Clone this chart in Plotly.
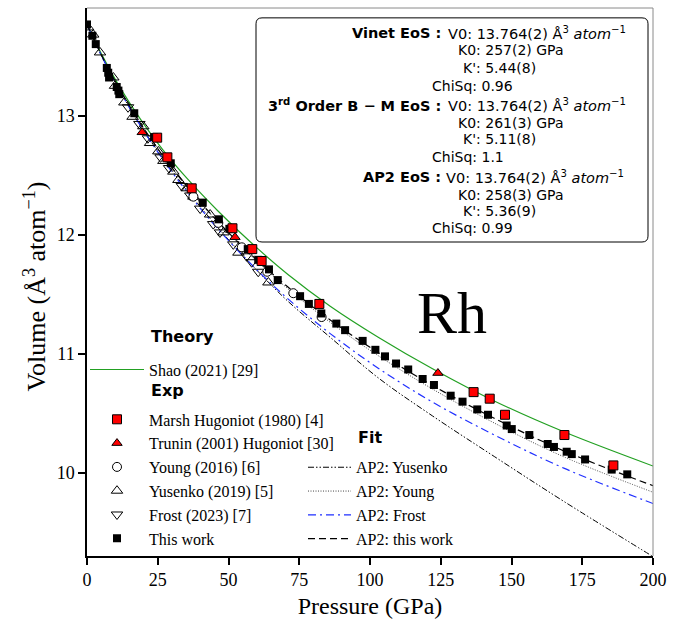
import plotly.graph_objects as go

# ---------------- data ----------------
fit_P = [0, 5.5, 11.74, 18.81, 26.82, 35.91, 46.19, 57.85, 71.01, 85.94, 102.9, 122.1, 143.9, 168.7, 200]
shao_V = [13.764, 13.499, 13.233, 12.973, 12.713, 12.458, 12.202, 11.937, 11.667, 11.401, 11.141, 10.876, 10.606, 10.345, 10.06]
ap2_this_V = [13.764, 13.489, 13.213, 12.938, 12.663, 12.388, 12.112, 11.837, 11.562, 11.286, 11.011, 10.736, 10.461, 10.185, 9.895]
ap2_young_V = [13.764, 13.489, 13.213, 12.938, 12.663, 12.388, 12.107, 11.827, 11.547, 11.266, 10.986, 10.706, 10.421, 10.135, 9.84]
ap2_frost_V = [13.764, 13.484, 13.203, 12.918, 12.633, 12.343, 12.052, 11.757, 11.462, 11.171, 10.881, 10.596, 10.321, 10.04, 9.745]
ap2_yusenko_V = [13.764, 13.484, 13.203, 12.918, 12.643, 12.358, 12.062, 11.757, 11.442, 11.14, 10.80, 10.48, 10.14, 9.76, 9.30]

this_P = [0, 1.9, 3.1, 7.0, 7.5, 7.8, 10.5, 11.1, 11.4, 16.7, 23.7, 29.6, 40.9, 46.6, 50.3, 56.8, 60.5,
          64.3, 67.4, 75.3, 78.4, 82.8, 88.1, 91.2, 97.4, 101.9, 105.3, 109.2, 113.5, 118.6, 122.6, 128.5,
          132.7, 137.9, 141.7, 148.3, 150.1, 156.3, 162.8, 165.0, 169.5, 171.3, 176.0, 185.4, 190.9]
this_V = [13.765, 13.67, 13.60, 13.40, 13.36, 13.32, 13.24, 13.21, 13.18, 13.02, 12.82, 12.60, 12.27, 12.13,
          12.05, 11.88, 11.79, 11.71, 11.62, 11.485, 11.42, 11.34, 11.255, 11.20, 11.11, 11.035, 10.98, 10.92,
          10.87, 10.79, 10.74, 10.65, 10.60, 10.535, 10.49, 10.40, 10.37, 10.32, 10.245, 10.22, 10.18, 10.16,
          10.115, 10.03, 9.99]

marsh_P = [24.8, 28.4, 37.0, 51.4, 58.4, 61.7, 82.1, 136.6, 142.3, 147.7, 168.7, 186.0]
marsh_V = [12.815, 12.65, 12.39, 12.055, 11.88, 11.78, 11.42, 10.68, 10.625, 10.49, 10.32, 10.065]

trunin_P = [19.5, 52.3, 124.0]
trunin_V = [12.86, 11.98, 10.84]

young_P = [37.6, 46.4, 54.7, 63.7, 72.9, 82.9]
young_V = [12.32, 12.10, 11.895, 11.69, 11.51, 11.31]

yusenko_P = [0.4, 2.2, 4.6, 9.3, 9.9, 13.2, 16.1, 19.9, 22.3, 25.2, 27.0, 30.5, 32.3, 35.2, 37.6, 43.5, 48.2, 53.5, 64.1]
yusenko_V = [13.74, 13.68, 13.53, 13.32, 13.25, 13.11, 12.99, 12.91, 12.77, 12.70, 12.62, 12.53, 12.46, 12.39,
             12.32, 12.17, 12.02, 11.85, 11.60]

frost_P = [14.5, 18.5, 21.5, 26.0, 29.0, 33.5, 36.5, 40.0, 44.6, 47.0, 51.7, 56.4, 58.2, 60.5]
frost_V = [13.07, 12.93, 12.81, 12.65, 12.56, 12.41, 12.33, 12.22, 12.09, 12.02, 11.92, 11.82, 11.77, 11.69]

x_ticks = [0, 25, 50, 75, 100, 125, 150, 175, 200]
y_ticks = [10, 11, 12, 13]

box_lines = [
    ("<b>Vinet EoS :</b>", "V0: 13.764(2) Å<sup>3</sup> <i>atom</i><sup>−1</sup>", "K0: 257(2) GPa", "K': 5.44(8)", "ChiSq: 0.96"),
    ("<b>3<sup>rd</sup> Order B − M EoS :</b>", "V0: 13.764(2) Å<sup>3</sup> <i>atom</i><sup>−1</sup>", "K0: 261(3) GPa", "K': 5.11(8)", "ChiSq: 1.1"),
    ("<b>AP2 EoS :</b>", "V0: 13.764(2) Å<sup>3</sup> <i>atom</i><sup>−1</sup>", "K0: 258(3) GPa", "K': 5.36(9)", "ChiSq: 0.99"),
]

# ---------------- layout geometry (pixels) ----------------
W, H = 691, 623
L, R, T, B = 87, 653, 8, 563


def px(x):
    return (x - L) / (R - L)


def py(y):
    return (B - y) / (B - T)


SERIF = "Liberation Serif, Times New Roman, serif"
SANS = "DejaVu Sans, sans-serif"

fig = go.Figure()

# Theory
fig.add_trace(go.Scatter(x=fit_P, y=shao_V, mode="lines", name="Shao (2021) [29]",
                         line=dict(color="#22a022", width=1.2, shape="spline"),
                         legend="legend", legendgroup="theory", legendrank=1))

# Fits
fit_styles = [
    ("AP2: Yusenko", ap2_yusenko_V, dict(color="black", width=1, dash="6px,2px,1.5px,2px,1.5px,2px")),
    ("AP2: Young", ap2_young_V, dict(color="#444444", width=1, dash="1px,1.5px")),
    ("AP2: Frost", ap2_frost_V, dict(color="#1f2fff", width=1.2, dash="8px,4px,2px,4px")),
    ("AP2: this work", ap2_this_V, dict(color="black", width=1.2, dash="7px,4px")),
]
for i, (nm, vv, ln) in enumerate(fit_styles):
    ln = dict(ln, shape="spline")
    fig.add_trace(go.Scatter(x=fit_P, y=vv, mode="lines", name=nm, line=ln,
                             legend="legend2", legendrank=10 + i))

# Experimental data
fig.add_trace(go.Scatter(x=yusenko_P, y=yusenko_V, mode="markers", name="Yusenko (2019) [5]",
                         marker=dict(symbol="triangle-up-open", size=10, color="black", line=dict(width=1)),
                         legendgroup="exp", legendrank=5))
fig.add_trace(go.Scatter(x=frost_P, y=frost_V, mode="markers", name="Frost (2023) [7]",
                         marker=dict(symbol="triangle-down-open", size=10, color="black", line=dict(width=1)),
                         legendgroup="exp", legendrank=6))
fig.add_trace(go.Scatter(x=young_P, y=young_V, mode="markers", name="Young (2016) [6]",
                         marker=dict(symbol="circle", size=9, color="white", line=dict(width=1, color="black")),
                         legendgroup="exp", legendrank=4))
fig.add_trace(go.Scatter(x=this_P, y=this_V, mode="markers", name="This work",
                         marker=dict(symbol="square", size=8, color="black"),
                         error_y=dict(type="constant", value=0.012, color="black", thickness=1, width=2),
                         error_x=dict(type="constant", value=0.6, color="black", thickness=1, width=2),
                         legendgroup="exp", legendrank=7))
fig.add_trace(go.Scatter(x=marsh_P, y=marsh_V, mode="markers", name="Marsh Hugoniot (1980) [4]",
                         marker=dict(symbol="square", size=9, color="#ff0000", line=dict(width=1, color="black")),
                         legendgroup="exp", legendrank=2))
fig.add_trace(go.Scatter(x=trunin_P, y=trunin_V, mode="markers", name="Trunin (2001) Hugoniot [30]",
                         marker=dict(symbol="triangle-up", size=9, color="#ff0000", line=dict(width=1, color="black")),
                         legendgroup="exp", legendrank=3))

shapes = []
# gray top & right frame
shapes.append(dict(type="line", xref="paper", yref="paper", x0=0, x1=1, y0=1, y1=1,
                   line=dict(color="#8a8a8a", width=1)))
shapes.append(dict(type="line", xref="paper", yref="paper", x0=1, x1=1, y0=0, y1=1,
                   line=dict(color="#8a8a8a", width=1)))

# rounded info box
bx0, bx1, by0, by1, rr = 256, 648, 18, 245, 6


def rounded_path(x0, y0, x1, y1, r):
    pts = []
    pts.append(f"M {px(x0 + r)},{py(y0)}")
    pts.append(f"L {px(x1 - r)},{py(y0)}")
    pts.append(f"Q {px(x1)},{py(y0)} {px(x1)},{py(y0 + r)}")
    pts.append(f"L {px(x1)},{py(y1 - r)}")
    pts.append(f"Q {px(x1)},{py(y1)} {px(x1 - r)},{py(y1)}")
    pts.append(f"L {px(x0 + r)},{py(y1)}")
    pts.append(f"Q {px(x0)},{py(y1)} {px(x0)},{py(y1 - r)}")
    pts.append(f"L {px(x0)},{py(y0 + r)}")
    pts.append(f"Q {px(x0)},{py(y0)} {px(x0 + r)},{py(y0)}")
    pts.append("Z")
    return " ".join(pts)


shapes.append(dict(type="path", xref="paper", yref="paper", path=rounded_path(bx0, by0, bx1, by1, rr),
                   line=dict(color="black", width=1), fillcolor="white", layer="above"))

annotations = []
row_y = [[33.5, 51, 69, 86.5], [106.5, 124, 141, 158.5], [179.5, 197, 214, 231]]
val_x = [446, 456, 461, 430]
for k, (lab, v0, k0, kp, chi) in enumerate(box_lines):
    ys = row_y[k]
    annotations.append(dict(x=px(443), y=py(ys[0]), xref="paper", yref="paper", text=lab,
                            showarrow=False, xanchor="right", yanchor="middle",
                            font=dict(family=SANS, size=14.5, color="black")))
    for j, t in enumerate([v0, k0, kp, chi]):
        annotations.append(dict(x=px(val_x[j] - (2 if (k == 2 and j == 0) else 0)), y=py(ys[j]),
                                xref="paper", yref="paper", text=t,
                                showarrow=False, xanchor="left", yanchor="middle",
                                font=dict(family=SANS, size=14.5 if j == 0 else 14, color="black")))

# big element label
annotations.append(dict(x=px(452), y=py(317), xref="paper", yref="paper", text="Rh", showarrow=False,
                        xanchor="center", yanchor="middle", font=dict(family=SERIF, size=60, color="black")))

# legend section headers
for txt, xx, yy in [("Theory", 149, 341), ("Exp", 149, 395), ("Fit", 356, 443)]:
    annotations.append(dict(x=px(xx), y=py(yy), xref="paper", yref="paper", text=f"<b>{txt}</b>",
                            showarrow=False, xanchor="left", yanchor="middle",
                            font=dict(family=SANS, size=16, color="black")))

# y axis title
annotations.append(dict(x=px(35), y=py(290), xref="paper", yref="paper",
                        text="Volume (Å<sup>3</sup> atom<sup>−1</sup>)", textangle=-90, showarrow=False,
                        xanchor="center", yanchor="middle", font=dict(family=SERIF, size=26, color="black")))

fig.update_layout(
    width=W, height=H,
    margin=dict(l=L, r=W - R, t=T, b=H - B, pad=0),
    plot_bgcolor="white", paper_bgcolor="white",
    showlegend=True,
    shapes=shapes, annotations=annotations,
    legend=dict(x=px(85), y=py(357), xanchor="left", yanchor="top", bgcolor="rgba(0,0,0,0)",
                font=dict(family=SERIF, size=16, color="black"), traceorder="grouped",
                tracegroupgap=26, itemwidth=54),
    legend2=dict(x=px(303), y=py(456), xanchor="left", yanchor="top", bgcolor="rgba(0,0,0,0)",
                 font=dict(family=SERIF, size=16, color="black"), itemwidth=43),
    xaxis=dict(range=[0, 200], tickvals=x_ticks, ticktext=[str(v) for v in x_ticks],
               showgrid=False, zeroline=False, showline=True, linecolor="black", linewidth=1.5,
               ticks="outside", ticklen=7, tickwidth=1.5, tickcolor="black",
               tickfont=dict(family=SERIF, size=18, color="black"),
               title=dict(text="Pressure (GPa)", font=dict(family=SERIF, size=24, color="black"), standoff=8)),
    yaxis=dict(range=[9.305, 13.903], tickvals=y_ticks, ticktext=[str(v) for v in y_ticks],
               showgrid=False, zeroline=False, showline=True, linecolor="black", linewidth=1.5,
               ticks="outside", ticklen=7, tickwidth=1.5, tickcolor="black",
               tickfont=dict(family=SERIF, size=18, color="black")),
)

fig.write_html("out.html")
